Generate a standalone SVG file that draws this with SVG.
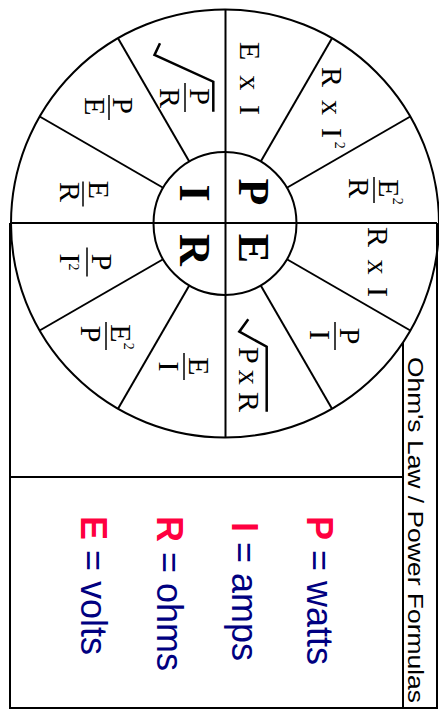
<svg xmlns="http://www.w3.org/2000/svg" width="439" height="709" viewBox="0 0 439 709">
<style>
.ln{stroke:#000;stroke-width:2;fill:none}
.bar{stroke:#000;stroke-width:1.5}
.rad{stroke:#000;stroke-width:2.5;fill:none;stroke-linejoin:miter}
.f{font-family:"Liberation Serif","Times New Roman",serif;font-size:30px;fill:#000}
.c{font-family:"Liberation Serif","Times New Roman",serif;font-size:44px;font-weight:bold;fill:#000}
.sup{font-size:14px}
.lg{font-family:"Liberation Sans",Arial,sans-serif;font-size:36px;fill:#000080}
.lk{font-weight:bold;fill:#ff0040}
.t{font-family:"Liberation Sans",Arial,sans-serif;font-size:22.5px;fill:#000}
</style>
<rect width="439" height="709" fill="#fff"/>
<g id="frame">
<path class="ln" d="M10,223 V708 H437 V223"/>
<path class="ln" d="M403,342 V708"/>
<path class="ln" d="M10,477 H403"/>
</g>
<g id="wheel">
<circle class="ln" cx="225" cy="223.5" r="214"/>
<circle class="ln" cx="225" cy="223.5" r="71.5"/>
<line class="ln" x1="10" y1="223" x2="437" y2="223"/>
<line class="ln" x1="225.5" y1="9.5" x2="225.5" y2="437.5"/>
<g id="spokes" transform="translate(225,223.5)">
<line class="ln" x1="35.75" y1="-61.92" x2="107" y2="-185.33"/>
<line class="ln" x1="61.92" y1="-35.75" x2="185.33" y2="-107"/>
<line class="ln" x1="61.92" y1="35.75" x2="185.33" y2="107"/>
<line class="ln" x1="35.75" y1="61.92" x2="107" y2="185.33"/>
<line class="ln" x1="-35.75" y1="61.92" x2="-107" y2="185.33"/>
<line class="ln" x1="-61.92" y1="35.75" x2="-185.33" y2="107"/>
<line class="ln" x1="-61.92" y1="-35.75" x2="-185.33" y2="-107"/>
<line class="ln" x1="-35.75" y1="-61.92" x2="-107" y2="-185.33"/>
</g>
</g>
<g id="center-P"><text class="c" transform="translate(239,192) rotate(90)" text-anchor="middle">P</text></g>
<g id="center-E"><text class="c" transform="translate(239,248.5) rotate(90)" text-anchor="middle">E</text></g>
<g id="center-I"><text class="c" transform="translate(180,193) rotate(90)" text-anchor="middle">I</text></g>
<g id="center-R"><text class="c" transform="translate(180,250) rotate(90)" text-anchor="middle">R</text></g>

<g id="f-ExI"><text class="f" transform="translate(240,78.5) rotate(90)" text-anchor="middle" textLength="73" lengthAdjust="spacing">E x I</text></g>
<g id="f-RxI2"><text class="f" transform="translate(322,67) rotate(90)"><tspan textLength="71" lengthAdjust="spacing">R x I</tspan><tspan class="sup" dx="1" dy="-13">2</tspan></text></g>
<g id="f-E2R" transform="translate(374,190) rotate(90)">
<line class="bar" x1="-13" y1="0" x2="13" y2="0"/>
<text class="f" x="2" y="-5" text-anchor="middle">E<tspan class="sup" dy="-14">2</tspan></text>
<text class="f" x="-2" y="25" text-anchor="middle">R</text>
</g>
<g id="f-RxI"><text class="f" transform="translate(368,262) rotate(90)" text-anchor="middle" textLength="70" lengthAdjust="spacing">R x I</text></g>
<g id="f-PI" transform="translate(335,336) rotate(90)">
<line class="bar" x1="-14" y1="0" x2="14" y2="0"/>
<text class="f" x="0" y="-5" text-anchor="middle">P</text>
<text class="f" x="-1" y="25" text-anchor="middle">I</text>
</g>
<g id="f-sqrtPxR">
<path class="rad" d="M248.3,319.3 L239.3,331.7 L266.7,346.7 V411.7"/>
<text class="f" transform="translate(239,379.5) rotate(90)" text-anchor="middle" textLength="65" lengthAdjust="spacing">P x R</text>
</g>
<g id="f-EI" transform="translate(184,366.5) rotate(90)">
<line class="bar" x1="-13.5" y1="0" x2="13.5" y2="0"/>
<text class="f" x="0" y="-5" text-anchor="middle">E</text>
<text class="f" x="0" y="25" text-anchor="middle">I</text>
</g>
<g id="f-E2P" transform="translate(106,336) rotate(90)">
<line class="bar" x1="-14" y1="0" x2="14" y2="0"/>
<text class="f" x="1" y="-5" text-anchor="middle">E<tspan class="sup" dy="-13">2</tspan></text>
<text class="f" x="-2" y="25" text-anchor="middle">P</text>
</g>
<g id="f-PI2" transform="translate(87,262) rotate(90)">
<line class="bar" x1="-14.5" y1="0" x2="14.5" y2="0"/>
<text class="f" x="0" y="-5" text-anchor="middle">P</text>
<text class="f" x="0" y="27" text-anchor="middle">I<tspan class="sup" dy="-9">2</tspan></text>
</g>
<g id="f-ER" transform="translate(83,194) rotate(90)">
<line class="bar" x1="-12.5" y1="0" x2="12.5" y2="0"/>
<text class="f" x="-4" y="-6" text-anchor="middle">E</text>
<text class="f" x="-2" y="23" text-anchor="middle">R</text>
</g>
<g id="f-PE" transform="translate(109,107.5) rotate(90)">
<line class="bar" x1="-12.5" y1="0" x2="12.5" y2="0"/>
<text class="f" x="-2" y="-4" text-anchor="middle">P</text>
<text class="f" x="-1" y="24" text-anchor="middle">E</text>
</g>
<g id="f-sqrtPR">
<path class="rad" d="M160,43.3 L154.5,55 L213.3,81.7 V111.7"/>
<g transform="translate(185,97.5) rotate(90)">
<line class="bar" x1="-14.5" y1="0" x2="14.5" y2="0"/>
<text class="f" x="-1" y="-5" text-anchor="middle">P</text>
<text class="f" x="0.5" y="25" text-anchor="middle">R</text>
</g>
</g>

<g id="legend">
<text class="lg" transform="translate(307,516) rotate(90)"><tspan class="lk">P</tspan> = watts</text>
<text class="lg" transform="translate(232,522) rotate(90)"><tspan class="lk">I</tspan> = amps</text>
<text class="lg" transform="translate(157,516) rotate(90)"><tspan class="lk">R</tspan> = ohms</text>
<text class="lg" transform="translate(81,516) rotate(90)"><tspan class="lk">E</tspan> = volts</text>
</g>
<g id="title">
<text class="t" transform="translate(408,357) rotate(90)" textLength="346" lengthAdjust="spacingAndGlyphs">Ohm's Law / Power Formulas</text>
</g>
</svg>
